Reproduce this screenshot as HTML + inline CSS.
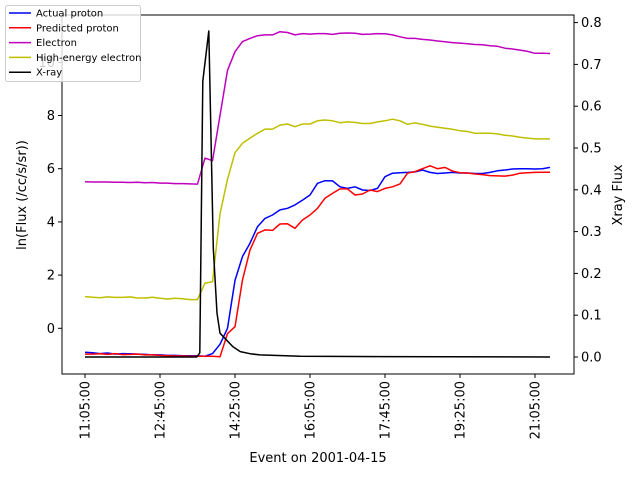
<!DOCTYPE html>
<html><head><meta charset="utf-8">
<style>
html,body{margin:0;padding:0;background:#fff;}
svg{display:block;font-family:"DejaVu Sans","Liberation Sans",sans-serif;}
</style></head>
<body>
<svg id="chart" width="640" height="480" viewBox="0 0 640 480" xmlns="http://www.w3.org/2000/svg"></svg>
<script>
// ---- data (10-minute steps from 11:05) ----
const stepMinutes = 10;
const electron = [5.51,5.5,5.5,5.5,5.49,5.49,5.48,5.49,5.47,5.48,5.46,5.46,5.44,5.44,5.43,5.42,6.4,6.3,8.0,9.7,10.4,10.78,10.9,11.0,11.03,11.03,11.15,11.12,11.03,11.08,11.06,11.08,11.08,11.05,11.09,11.1,11.09,11.05,11.06,11.08,11.07,11.03,10.96,10.9,10.9,10.86,10.84,10.8,10.77,10.74,10.72,10.7,10.67,10.66,10.62,10.6,10.53,10.5,10.46,10.41,10.34,10.34,10.33];
const highEnergy = [1.19,1.17,1.15,1.18,1.16,1.16,1.18,1.14,1.14,1.17,1.13,1.1,1.13,1.11,1.08,1.08,1.7,1.75,4.3,5.6,6.6,6.96,7.15,7.33,7.49,7.49,7.64,7.68,7.58,7.68,7.68,7.8,7.83,7.8,7.73,7.76,7.74,7.7,7.7,7.76,7.8,7.86,7.8,7.67,7.72,7.67,7.6,7.56,7.52,7.48,7.43,7.4,7.33,7.33,7.33,7.31,7.26,7.23,7.18,7.15,7.12,7.12,7.12];
const actualProton = [-0.9,-0.92,-0.95,-0.93,-0.97,-0.95,-0.96,-0.97,-0.98,-1.0,-1.0,-1.02,-1.02,-1.03,-1.03,-1.03,-1.05,-0.95,-0.6,0.0,1.8,2.7,3.2,3.82,4.13,4.26,4.45,4.51,4.64,4.82,5.01,5.45,5.55,5.54,5.32,5.26,5.32,5.2,5.18,5.26,5.7,5.83,5.85,5.86,5.88,5.95,5.86,5.82,5.84,5.86,5.84,5.84,5.82,5.82,5.86,5.92,5.95,5.99,6.0,6.0,5.99,6.0,6.05];
const predictedProton = [-0.97,-0.97,-0.96,-0.98,-0.95,-0.99,-0.98,-0.97,-1.0,-1.0,-1.02,-1.03,-1.04,-1.04,-1.05,-1.05,-1.05,-1.05,-1.07,-0.2,0.06,1.82,2.94,3.57,3.7,3.68,3.92,3.93,3.76,4.07,4.26,4.51,4.89,5.07,5.24,5.24,5.01,5.05,5.2,5.14,5.26,5.32,5.43,5.83,5.89,6.0,6.11,6.0,6.05,5.91,5.85,5.84,5.8,5.78,5.74,5.73,5.72,5.76,5.83,5.85,5.86,5.87,5.87];
// x-ray on its own time grid (minutes since 11:05)
const xrayTimes = [0,50,100,149,153,157,165,171,176,180,189,197,207,220,233,287,400,620];
const xrayValues = [0.0,0.0,0.0,0.0,0.01,0.66,0.78,0.26,0.105,0.057,0.04,0.025,0.013,0.008,0.005,0.002,0.001,0.0];
const xTickMinutes = [0,100,200,300,400,500,600];
const xTickLabels = ["11:05:00","12:45:00","14:25:00","16:05:00","17:45:00","19:25:00","21:05:00"];
const yLeftTicks = [0,2,4,6,8,10];
const yRightTicks = [0.0,0.1,0.2,0.3,0.4,0.5,0.6,0.7,0.8];

const svg = document.getElementById('chart');
const NS = 'http://www.w3.org/2000/svg';
const L=62,R=574,T=15,B=374;
const xs = t => 85 + 0.75*t;
const yl = v => 328.3 - 26.6*v;
const yr = v => 357 - 418*v;
function mk(tag, attrs, parent){const e=document.createElementNS(NS,tag);for(const k in attrs)e.setAttribute(k,attrs[k]);(parent||svg).appendChild(e);return e;}

const series = [
 {d:actualProton,c:'#0000ff',n:'actual-proton-line'},
 {d:predictedProton,c:'#ff0000',n:'predicted-proton-line'},
 {d:electron,c:'#bf00bf',n:'electron-line'},
 {d:highEnergy,c:'#bfbf00',n:'high-energy-electron-line'}
];
series.forEach(s=>{
  const pts = s.d.map((v,i)=>xs(i*stepMinutes).toFixed(1)+','+yl(v).toFixed(1)).join(' ');
  const p = mk('polyline',{points:pts,fill:'none',stroke:s.c,'stroke-width':1.5,'stroke-linejoin':'round'});
  
  
});
const xp = xrayValues.map((v,i)=>xs(xrayTimes[i]).toFixed(1)+','+yr(v).toFixed(1)).join(' ');
const xl = mk('polyline',{points:xp,fill:'none',stroke:'#000','stroke-width':1.5,'stroke-linejoin':'round'});



// frame
const fr = mk('rect',{x:L,y:T,width:R-L,height:B-T,fill:'none',stroke:'#000','stroke-width':1});



// x ticks
xTickMinutes.forEach((m,i)=>{
  const x = xs(m);
  mk('line',{x1:x,x2:x,y1:B,y2:B+4,stroke:'#000'});
  const t = mk('text',{x:0,y:0,'font-size':13,'text-anchor':'end',transform:`translate(${x+4.5},${B+7}) rotate(-90)`});
  t.textContent = xTickLabels[i];
  
  
});
// left ticks
yLeftTicks.forEach(v=>{
  const y = yl(v);
  mk('line',{x1:L-4,x2:L,y1:y,y2:y,stroke:'#000'});
  const t = mk('text',{x:L-7,y:y+4.5,'font-size':13,'text-anchor':'end'});
  t.textContent = String(v);
  
  
});
// right ticks
yRightTicks.forEach(v=>{
  const y = yr(v);
  mk('line',{x1:R,x2:R+4,y1:y,y2:y,stroke:'#000'});
  const t = mk('text',{x:R+7,y:y+4.5,'font-size':13,'text-anchor':'start'});
  t.textContent = v.toFixed(1);
  
  
});
// axis titles
const xt = mk('text',{x:318,y:462,'font-size':13,'text-anchor':'middle'});
xt.textContent='Event on 2001-04-15';


const ylt = mk('text',{x:0,y:0,'font-size':13,'text-anchor':'middle',transform:'translate(26,195) rotate(-90)'});
ylt.textContent='ln(Flux (/cc/s/sr))';


const yrt = mk('text',{x:0,y:0,'font-size':13,'text-anchor':'middle',transform:'translate(622,195) rotate(-90)'});
yrt.textContent='Xray Flux';



// legend
const lg = mk('g',{});


mk('rect',{x:5.5,y:5.5,width:135,height:76,rx:2,fill:'#fff','fill-opacity':0.8,stroke:'#ccc'},lg);
const legendNames = ['Actual proton','Predicted proton','Electron','High-energy electron','X-ray'];
const legendColors = ['#0000ff','#ff0000','#bf00bf','#bfbf00','#000'];
legendNames.forEach((n,i)=>{
  const y = 13 + i*14.8;
  const g = mk('g',{},lg);
  
  
  mk('line',{x1:9,x2:31,y1:y,y2:y,stroke:legendColors[i],'stroke-width':1.5},g);
  const t = mk('text',{x:36,y:y+3.5,'font-size':10},g);
  t.textContent = n;
});
</script>
</body></html>
